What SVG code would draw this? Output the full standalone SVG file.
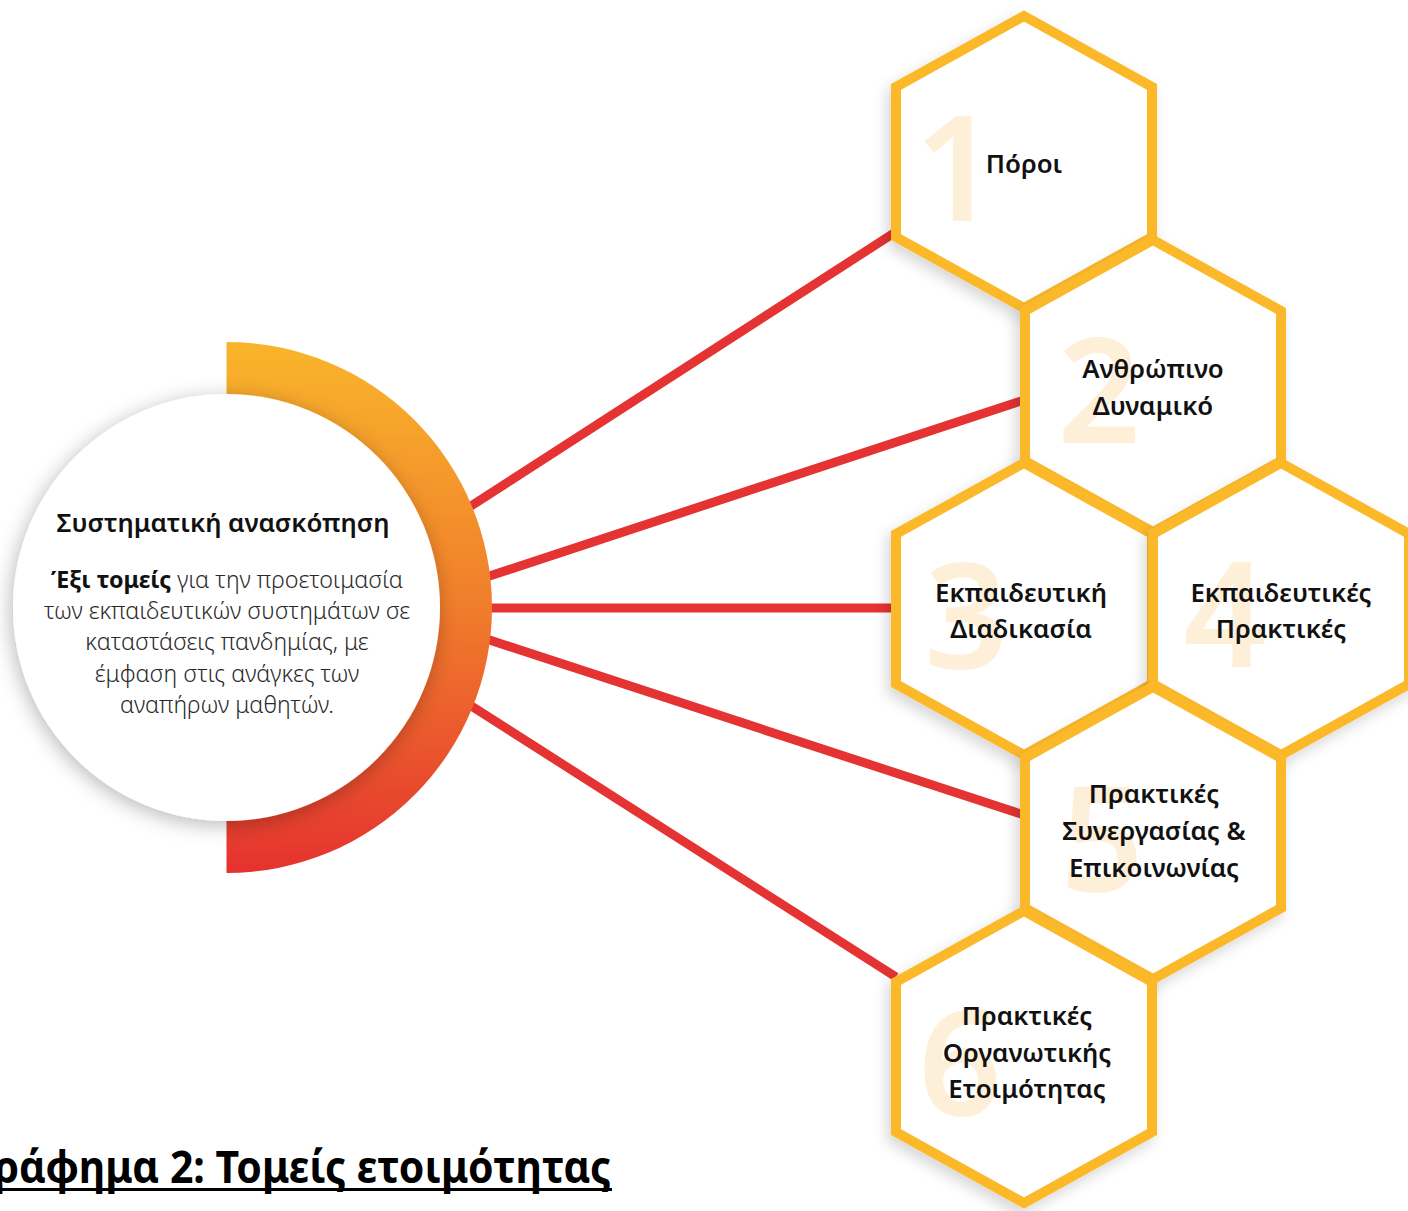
<svg xmlns="http://www.w3.org/2000/svg" width="1408" height="1211" viewBox="0 0 1408 1211">
<style>
.hex{fill:#fff;stroke:#FBB92C;stroke-width:10;stroke-linejoin:miter;filter:url(#hexShadow)}
.num{font-family:"Noto Sans","DejaVu Sans",sans-serif;font-size:146px;font-weight:600;fill:#FEEFD8;text-anchor:middle}
.lbl{font-family:"Noto Sans","DejaVu Sans",sans-serif;font-size:25.8px;font-weight:600;fill:#111;text-anchor:middle}
.con{stroke:#E53232;stroke-width:9;fill:none}
.body{font-family:"Noto Sans","DejaVu Sans",sans-serif;font-size:23.3px;font-weight:300;fill:#2a2a2a;text-anchor:middle}
</style>
<defs>
<filter id="hexShadow" x="-20%" y="-20%" width="140%" height="140%">
<feDropShadow dx="-4" dy="6" stdDeviation="7" flood-color="#000" flood-opacity="0.16"/>
</filter>
<filter id="circShadow" x="-20%" y="-20%" width="140%" height="140%">
<feDropShadow dx="-2" dy="4" stdDeviation="10" flood-color="#000" flood-opacity="0.28"/>
</filter>
<linearGradient id="ringGrad" gradientUnits="userSpaceOnUse" x1="0" y1="342" x2="0" y2="873">
<stop offset="0" stop-color="#F9B52B"/>
<stop offset="0.5" stop-color="#F07D2B"/>
<stop offset="1" stop-color="#E5322F"/>
</linearGradient>
</defs>
<rect x="0" y="0" width="1408" height="1211" fill="#fff"/>

<g id="connectors">
<line class="con" x1="440" y1="526" x2="894" y2="233"/>
<line class="con" x1="450" y1="589" x2="1024" y2="400"/>
<line class="con" x1="450" y1="608" x2="895" y2="608"/>
<line class="con" x1="450" y1="627" x2="1024" y2="815"/>
<line class="con" x1="440" y1="686" x2="896" y2="977"/>
</g>

<g id="center">
<path d="M226.5,342 A265.5,265.5 0 0 1 226.5,873 L226.5,800 A193,193 0 0 0 226.5,414 Z" fill="url(#ringGrad)"/>
<circle cx="226.5" cy="607.5" r="213.5" fill="#fff" filter="url(#circShadow)"/>
<text x="223" y="532" font-family="'Noto Sans','DejaVu Sans',sans-serif" font-size="25.8" font-weight="600" fill="#111" text-anchor="middle">Συστηματική ανασκόπηση</text>
<text class="body" x="227" y="588"><tspan font-weight="700" fill="#111">Έξι τομείς</tspan> για την προετοιμασία</text>
<text class="body" x="227" y="619">των εκπαιδευτικών συστημάτων σε</text>
<text class="body" x="227" y="650">καταστάσεις πανδημίας, με</text>
<text class="body" x="227" y="682">έμφαση στις ανάγκες των</text>
<text class="body" x="227" y="713">αναπήρων μαθητών.</text>
</g>

<g id="hex1">
<polygon class="hex" points="1024,16 1152,87 1152,237 1024,308 896,237 896,87"/>
<text class="num" x="956" y="221">1</text>
<text class="lbl" x="1024" y="173">Πόροι</text>
</g>

<g id="hex2">
<polygon class="hex" points="1153,240 1281,311 1281,461 1153,532 1025,461 1025,311"/>
<text class="num" x="1099" y="443">2</text>
<text class="lbl" x="1153" y="378">Ανθρώπινο</text>
<text class="lbl" x="1153" y="415">Δυναμικό</text>
</g>

<g id="hex3">
<polygon class="hex" points="1024,463 1152,534 1152,684 1024,755 896,684 896,534"/>
<text class="num" x="966" y="669">3</text>
<text class="lbl" x="1021" y="602">Εκπαιδευτική</text>
<text class="lbl" x="1021" y="638">Διαδικασία</text>
</g>

<g id="hex4">
<polygon class="hex" points="1281,463 1409,534 1409,684 1281,755 1153,684 1153,534"/>
<text class="num" x="1225" y="667">4</text>
<text class="lbl" x="1281" y="602">Εκπαιδευτικές</text>
<text class="lbl" x="1281" y="638">Πρακτικές</text>
</g>

<g id="hex5">
<polygon class="hex" points="1153,687 1281,758 1281,908 1153,979 1025,908 1025,758"/>
<text class="num" x="1102" y="892">5</text>
<text class="lbl" x="1154" y="803">Πρακτικές</text>
<text class="lbl" x="1154" y="840">Συνεργασίας &amp;</text>
<text class="lbl" x="1154" y="877">Επικοινωνίας</text>
</g>

<g id="hex6">
<polygon class="hex" points="1024,911 1152,982 1152,1132 1024,1203 896,1132 896,982"/>
<text class="num" x="960" y="1116">6</text>
<text class="lbl" x="1027" y="1025">Πρακτικές</text>
<text class="lbl" x="1027" y="1062">Οργανωτικής</text>
<text class="lbl" x="1027" y="1098">Ετοιμότητας</text>
</g>

<g id="caption">
<text x="-26" y="1183" font-family="'Noto Sans','DejaVu Sans',sans-serif" font-size="45" font-weight="700" fill="#000" textLength="637" lengthAdjust="spacingAndGlyphs">Γράφημα 2: Τομείς ετοιμότητας</text>
<rect x="0" y="1188" width="612" height="3" fill="#000"/>
</g>
</svg>
